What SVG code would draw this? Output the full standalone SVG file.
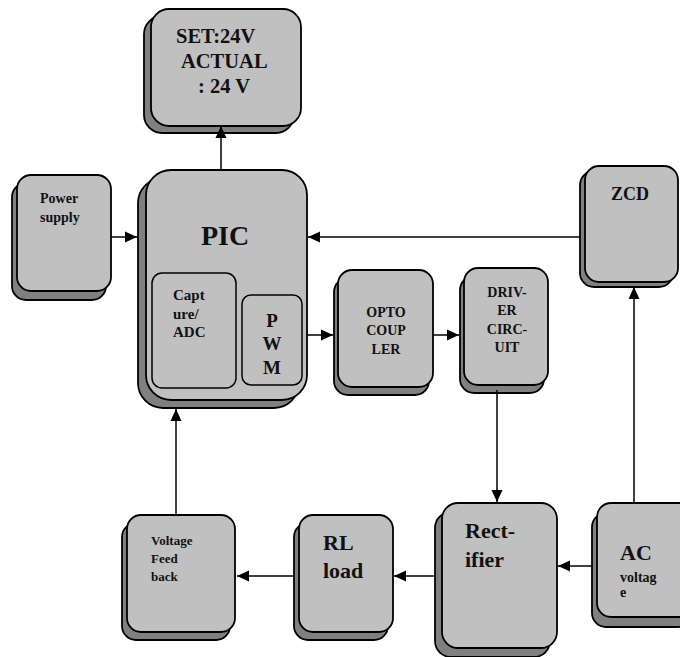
<svg xmlns="http://www.w3.org/2000/svg" width="680" height="657" viewBox="0 0 680 657">
<defs>
<style>
.sh{fill:#808080;stroke:#000;stroke-width:1.8}
.fr{fill:#c0c0c0;stroke:#000;stroke-width:1.8}
.in{fill:#c0c0c0;stroke:#000;stroke-width:1.5}
.t{font-family:"Liberation Serif","Times New Roman",serif;font-weight:bold;fill:#111}
.ln{stroke:#000;stroke-width:1.5;fill:none}
</style>
<marker id="ah" viewBox="0 0 12 12" refX="12" refY="6" markerWidth="12" markerHeight="12" markerUnits="userSpaceOnUse" orient="auto">
<path d="M0,0.5 L12,6 L0,11.5 Z" fill="#000"/>
</marker>
</defs>
<rect width="680" height="657" fill="#fff"/>
<g id="display">
<rect class="sh" x="144" y="16" width="150" height="117" rx="18"/>
<rect class="fr" x="151" y="9" width="150" height="117" rx="18"/>
<text class="t" font-size="20.5" x="176" y="43">SET:24V</text>
<text class="t" font-size="20.5" x="181" y="68">ACTUAL</text>
<text class="t" font-size="20.5" x="198" y="93">: 24 V</text>
</g>
<g id="power">
<rect class="sh" x="12" y="183" width="94" height="117" rx="14"/>
<rect class="fr" x="17" y="175" width="94" height="116" rx="14"/>
<text class="t" font-size="14" x="40" y="203">Power</text>
<text class="t" font-size="14" x="40" y="222">supply</text>
</g>
<g id="pic">
<rect class="sh" x="138" y="178" width="161" height="230" rx="25"/>
<rect class="fr" x="146" y="170" width="161" height="230" rx="25"/>
<text class="t" font-size="28" x="225" y="245" text-anchor="middle">PIC</text>
<rect class="in" x="152" y="273" width="84" height="115" rx="10"/>
<text class="t" font-size="15" x="173" y="300">Capt</text>
<text class="t" font-size="15" x="173" y="319">ure/</text>
<text class="t" font-size="15" x="173" y="337">ADC</text>
<rect class="in" x="242" y="295" width="60" height="90" rx="9"/>
<text class="t" font-size="19" x="272" y="327" text-anchor="middle">P</text>
<text class="t" font-size="19" x="272" y="350" text-anchor="middle">W</text>
<text class="t" font-size="19" x="272" y="374" text-anchor="middle">M</text>
</g>
<g id="zcd">
<rect class="sh" x="580" y="171" width="93" height="116" rx="14"/>
<rect class="fr" x="585" y="166" width="93" height="116" rx="14"/>
<text class="t" font-size="18" x="630" y="200" text-anchor="middle">ZCD</text>
</g>
<g id="opto">
<rect class="sh" x="334" y="278" width="95" height="117" rx="14"/>
<rect class="fr" x="338" y="270" width="95" height="117" rx="14"/>
<text class="t" font-size="14" x="386" y="317" text-anchor="middle">OPTO</text>
<text class="t" font-size="14" x="386" y="335" text-anchor="middle">COUP</text>
<text class="t" font-size="14" x="386" y="354" text-anchor="middle">LER</text>
</g>
<g id="driver">
<rect class="sh" x="460" y="276" width="84" height="117" rx="14"/>
<rect class="fr" x="464" y="268" width="84" height="117" rx="14"/>
<text class="t" font-size="14" x="507" y="297" text-anchor="middle">DRIV-</text>
<text class="t" font-size="14" x="507" y="315" text-anchor="middle">ER</text>
<text class="t" font-size="14" x="507" y="334" text-anchor="middle">CIRC-</text>
<text class="t" font-size="14" x="507" y="352" text-anchor="middle">UIT</text>
</g>
<g id="rectifier">
<rect class="sh" x="435" y="512" width="115" height="145" rx="16"/>
<rect class="fr" x="442" y="503" width="115" height="145" rx="16"/>
<text class="t" font-size="22" x="465" y="538">Rect-</text>
<text class="t" font-size="22" x="465" y="567">ifier</text>
</g>
<g id="ac">
<rect class="sh" x="592" y="513" width="100" height="114" rx="14"/>
<rect class="fr" x="597" y="503" width="100" height="114" rx="14"/>
<text class="t" font-size="22" x="620" y="560">AC</text>
<text class="t" font-size="14" x="620" y="582">voltag</text>
<text class="t" font-size="14" x="620" y="597">e</text>
</g>
<g id="rlload">
<rect class="sh" x="294" y="523" width="94" height="117" rx="14"/>
<rect class="fr" x="299" y="515" width="94" height="117" rx="14"/>
<text class="t" font-size="22" x="323" y="550">RL</text>
<text class="t" font-size="22" x="323" y="578">load</text>
</g>
<g id="feedback">
<rect class="sh" x="122" y="523" width="108" height="117" rx="14"/>
<rect class="fr" x="127" y="515" width="108" height="117" rx="14"/>
<text class="t" font-size="13" x="151" y="545">Voltage</text>
<text class="t" font-size="13" x="151" y="563">Feed</text>
<text class="t" font-size="13" x="151" y="581">back</text>
</g>
<g id="connectors">
<line class="ln" x1="221" y1="170" x2="221" y2="126" marker-end="url(#ah)"/>
<line class="ln" x1="111" y1="237" x2="137" y2="237" marker-end="url(#ah)"/>
<line class="ln" x1="580" y1="237" x2="308" y2="237" marker-end="url(#ah)"/>
<line class="ln" x1="307" y1="335" x2="333" y2="335" marker-end="url(#ah)"/>
<line class="ln" x1="433" y1="335" x2="459" y2="335" marker-end="url(#ah)"/>
<line class="ln" x1="497" y1="390" x2="497" y2="502" marker-end="url(#ah)"/>
<line class="ln" x1="634" y1="503" x2="634" y2="287" marker-end="url(#ah)"/>
<line class="ln" x1="592" y1="566" x2="558" y2="566" marker-end="url(#ah)"/>
<line class="ln" x1="435" y1="576" x2="394" y2="576" marker-end="url(#ah)"/>
<line class="ln" x1="294" y1="576" x2="237" y2="576" marker-end="url(#ah)"/>
<line class="ln" x1="176" y1="515" x2="176" y2="409" marker-end="url(#ah)"/>
</g>
</svg>
